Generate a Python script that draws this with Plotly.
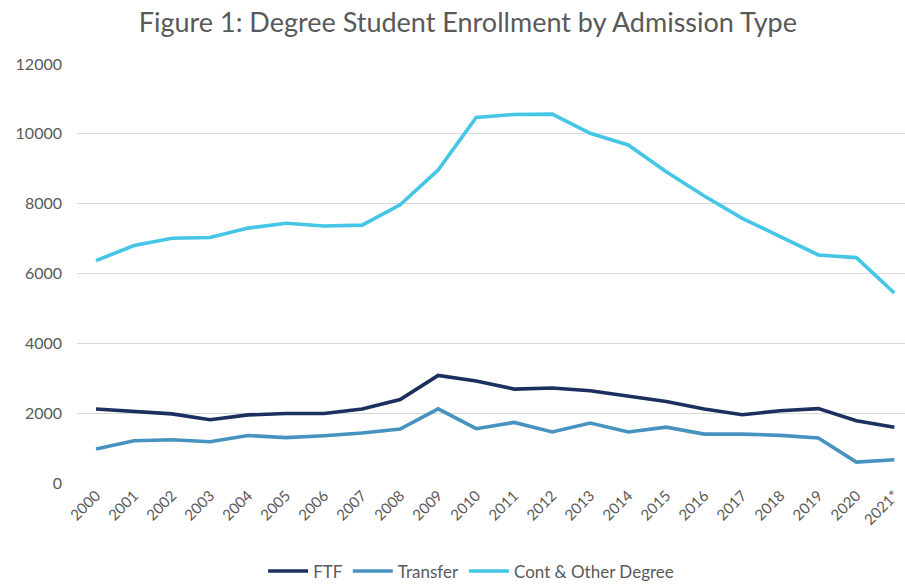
import plotly.graph_objects as go

years = ["2000", "2001", "2002", "2003", "2004", "2005", "2006", "2007", "2008", "2009", "2010",
         "2011", "2012", "2013", "2014", "2015", "2016", "2017", "2018", "2019", "2020", "2021*"]

ftf = [2120, 2060, 1980, 1810, 1950, 1990, 1990, 2120, 2390, 3080, 2920,
       2690, 2720, 2640, 2500, 2335, 2120, 1955, 2070, 2130, 1785, 1595]

transfer = [975, 1210, 1240, 1180, 1360, 1300, 1355, 1430, 1545, 2125, 1555,
            1735, 1460, 1715, 1460, 1600, 1400, 1400, 1365, 1290, 600, 665]

cont_other = [6370, 6800, 7010, 7030, 7300, 7440, 7360, 7385, 7965, 8965, 10470,
              10555, 10565, 10015, 9680, 8915, 8220, 7580, 7055, 6530, 6455, 5440]

series_names = ["FTF", "Transfer", "Cont & Other Degree"]
colors = ["#1C305F", "#4793BF", "#45C6E6"]

fig = go.Figure()
for name, vals, col in zip(series_names, [ftf, transfer, cont_other], colors):
    fig.add_trace(go.Scatter(
        x=list(range(len(years))), y=vals, name=name, mode="lines",
        line=dict(color=col, width=3.6),
    ))

font_family = "Lato, 'Open Sans', sans-serif"
fig.update_layout(
    width=905, height=587,
    margin=dict(l=77, r=0, t=64, b=104, autoexpand=False),
    paper_bgcolor="white", plot_bgcolor="white",
    title=dict(text="Figure 1: Degree Student Enrollment by Admission Type",
               x=0.517, xanchor="center", y=0.962, yanchor="middle",
               font=dict(family=font_family, size=27, color="#595959")),
    font=dict(family=font_family, color="#595959", size=15),
    showlegend=True,
    legend=dict(orientation="h", x=0.476, xanchor="center", y=-0.168, yanchor="top",
                font=dict(size=17, color="#595959"), traceorder="normal",
                itemwidth=40),
    xaxis=dict(
        tickmode="array", tickvals=list(range(len(years))), ticktext=years,
        range=[-0.5, 21.28], tickangle=-45, showgrid=False, zeroline=False,
        showline=False, ticks="", tickfont=dict(size=15, color="#595959"),
        automargin=False,
    ),
    yaxis=dict(
        range=[0, 12000], dtick=2000, showgrid=True, gridcolor="#D9D9D9",
        gridwidth=1.3, zeroline=False, showline=False, ticks="",
        ticklabelstandoff=14, tickfont=dict(size=16, color="#595959"),
        tickformat="d", automargin=False,
    ),
)

fig.write_html("out.html")
